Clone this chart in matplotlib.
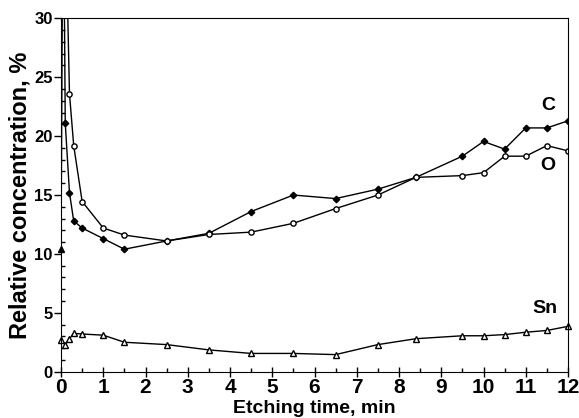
import numpy as np
import matplotlib
matplotlib.use('Agg')
import matplotlib.pyplot as plt
from matplotlib.ticker import MultipleLocator

plt.rcParams['font.family'] = ['Liberation Sans', 'DejaVu Sans']
plt.rcParams['font.weight'] = 'bold'

# carbon (filled diamonds), first point drawn as a filled triangle
c_time = [0, 0.05, 0.1, 0.2, 0.3, 0.5, 1, 1.5, 2.5, 3.5, 4.5, 5.5, 6.5, 7.5, 8.4,
          9.5, 10, 10.5, 11, 11.5, 12]
c_val = [10.4, 45, 21.1, 15.2, 12.8, 12.2, 11.3, 10.4, 11.1, 11.75, 13.6, 15.0, 14.7,
         15.5, 16.5, 18.3, 19.55, 18.9, 20.7, 20.7, 21.3]

# oxygen (open circles)
o_time = [0.1, 0.2, 0.3, 0.5, 1, 1.5, 2.5, 3.5, 4.5, 5.5, 6.5, 7.5, 8.4,
          9.5, 10, 10.5, 11, 11.5, 12]
o_val = [40, 23.6, 19.2, 14.45, 12.2, 11.6, 11.1, 11.65, 11.85, 12.6, 13.85, 15.0, 16.5,
         16.65, 16.9, 18.3, 18.3, 19.2, 18.75]

# tin (open triangles)
sn_time = [0, 0.1, 0.2, 0.3, 0.5, 1, 1.5, 2.5, 3.5, 4.5, 5.5, 6.5, 7.5, 8.4,
           9.5, 10, 10.5, 11, 11.5, 12]
sn_val = [2.7, 2.3, 2.8, 3.25, 3.2, 3.1, 2.5, 2.3, 1.85, 1.55, 1.55, 1.45, 2.3, 2.8,
          3.05, 3.05, 3.15, 3.35, 3.5, 3.85]

fig = plt.figure(figsize=(5.79, 4.18), dpi=100)
ax = fig.add_axes([0.1054, 0.1108, 0.8756, 0.8452])

ax.plot(c_time, c_val, color='k', lw=1, marker='D', ms=3.3, mfc='k', mec='k',
        markevery=list(range(2, len(c_time))))
ax.plot(c_time[:1], c_val[:1], ls='none', marker='^', ms=5, color='k', clip_on=False)
ax.plot(o_time, o_val, color='k', lw=1, marker='o', ms=3.8, mfc='white', mec='k',
        markevery=list(range(1, len(o_time))))
ax.plot(sn_time, sn_val, color='k', lw=1, marker='^', ms=5, mfc='white', mec='k',
        clip_on=False)

ax.text(11.53, 22.6, 'C', fontsize=14, fontweight='bold', ha='center', va='center')
ax.text(11.53, 17.5, 'O', fontsize=14, fontweight='bold', ha='center', va='center')
ax.text(11.45, 5.4, 'Sn', fontsize=14, fontweight='bold', ha='center', va='center')

ax.set_xlim(0, 12)
ax.set_ylim(0, 30)
ax.xaxis.set_major_locator(MultipleLocator(1))
ax.xaxis.set_minor_locator(MultipleLocator(0.5))
ax.yaxis.set_major_locator(MultipleLocator(5))
ax.yaxis.set_minor_locator(MultipleLocator(1))
ax.tick_params(axis='x', which='major', direction='inout', length=7, width=1,
               labelsize=15, pad=1)
ax.tick_params(axis='x', which='minor', direction='in', length=3, width=1)
ax.tick_params(axis='y', which='major', direction='out', length=5, width=1,
               labelsize=12, pad=1)
ax.tick_params(axis='y', which='minor', direction='in', length=3, width=1)
for lab in ax.get_xticklabels() + ax.get_yticklabels():
    lab.set_fontweight('bold')

ax.set_xlabel('Etching time, min', fontsize=14, fontweight='bold', labelpad=2)
ax.set_ylabel('Relative concentration, %', fontsize=17, fontweight='bold', labelpad=2)

plt.savefig('out.png', dpi=100)
